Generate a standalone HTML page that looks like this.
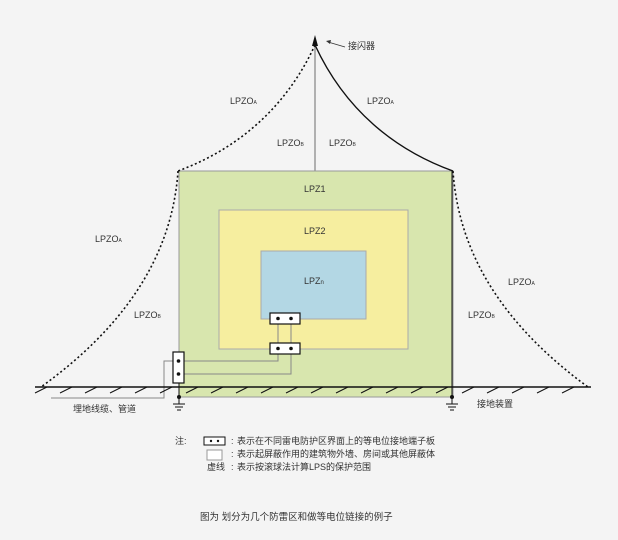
<!DOCTYPE html>
<html><head><meta charset="utf-8"><style>
html,body{margin:0;padding:0;background:#f4f4f4;}
svg{display:block;}
text{font-family:"Liberation Sans","Noto Sans CJK SC",sans-serif;fill:#333;}
</style></head><body>
<svg width="618" height="540" viewBox="0 0 618 540" xmlns="http://www.w3.org/2000/svg">
<rect x="0" y="0" width="618" height="540" fill="#f4f4f4"/>
<rect x="179" y="171" width="274" height="226" fill="#d8e6ae" stroke="#999" stroke-width="1"/>
<rect x="219" y="210" width="189" height="139" fill="#f6ee9f" stroke="#aaa" stroke-width="1"/>
<rect x="261" y="251" width="105" height="68" fill="#b3d7e4" stroke="#aaa" stroke-width="1"/>
<!-- mast -->
<line x1="315" y1="45" x2="315" y2="171" stroke="#999" stroke-width="1.5"/>
<polygon points="315,35 312,46 318,46" fill="#111"/>
<line x1="328" y1="42" x2="345" y2="47" stroke="#333" stroke-width="0.8"/>
<polygon points="326,41 331,40 330,44" fill="#333"/>
<!-- curves -->
<path d="M315,45 C285,110 235,150 178,171" fill="none" stroke="#111" stroke-width="1.6" stroke-dasharray="2,2.5"/>
<path d="M315,45 C345,110 395,150 453,171" fill="none" stroke="#111" stroke-width="1.4"/>
<path d="M178,171 C172,260 120,330 41,387" fill="none" stroke="#111" stroke-width="1.6" stroke-dasharray="2,2.5"/>
<path d="M453,171 C459,260 510,330 588,387" fill="none" stroke="#111" stroke-width="1.6" stroke-dasharray="2,2.5"/>
<!-- wires -->
<g fill="none" stroke="#888" stroke-width="1">
<line x1="278" y1="318" x2="278" y2="348"/><line x1="291" y1="318" x2="291" y2="348"/>
<polyline points="278,348 278,361 176,361"/>
<polyline points="291,348 291,374 176,374"/>
<polyline points="176,361 164,361 164,398 51,398"/>
</g>
<!-- terminal boxes -->
<g stroke="#111" stroke-width="1.2" fill="#fff">
<rect x="270" y="313" width="30" height="11"/>
<rect x="270" y="343" width="30" height="11"/>
<rect x="173" y="352" width="11" height="31"/>
</g>
<g fill="#111">
<circle cx="278" cy="318.5" r="1.8"/><circle cx="291" cy="318.5" r="1.8"/>
<circle cx="278" cy="348.5" r="1.8"/><circle cx="291" cy="348.5" r="1.8"/>
<circle cx="178.5" cy="361" r="1.8"/><circle cx="178.5" cy="374" r="1.8"/>
</g>
<!-- ground -->
<line x1="35" y1="387" x2="591" y2="387" stroke="#111" stroke-width="1.6"/>
<g stroke="#111" stroke-width="1">
<line x1="35" y1="393" x2="47" y2="387"/><line x1="60" y1="393" x2="72" y2="387"/><line x1="85" y1="393" x2="97" y2="387"/><line x1="110" y1="393" x2="122" y2="387"/><line x1="135" y1="393" x2="147" y2="387"/><line x1="160" y1="393" x2="172" y2="387"/><line x1="186" y1="393" x2="198" y2="387"/><line x1="211" y1="393" x2="223" y2="387"/><line x1="236" y1="393" x2="248" y2="387"/><line x1="261" y1="393" x2="273" y2="387"/><line x1="286" y1="393" x2="298" y2="387"/><line x1="311" y1="393" x2="323" y2="387"/><line x1="336" y1="393" x2="348" y2="387"/><line x1="361" y1="393" x2="373" y2="387"/><line x1="386" y1="393" x2="398" y2="387"/><line x1="411" y1="393" x2="423" y2="387"/><line x1="436" y1="393" x2="448" y2="387"/><line x1="462" y1="393" x2="474" y2="387"/><line x1="487" y1="393" x2="499" y2="387"/><line x1="512" y1="393" x2="524" y2="387"/><line x1="537" y1="393" x2="549" y2="387"/><line x1="562" y1="393" x2="574" y2="387"/>
<line x1="179" y1="383" x2="179" y2="404"/>
<line x1="173" y1="404" x2="185" y2="404"/><line x1="175" y1="407" x2="183" y2="407"/><line x1="177" y1="410" x2="181" y2="410"/>
<line x1="452" y1="171" x2="452" y2="404"/>
<line x1="446" y1="404" x2="458" y2="404"/><line x1="448" y1="407" x2="456" y2="407"/><line x1="450" y1="410" x2="454" y2="410"/>
</g>
<circle cx="179" cy="397" r="2" fill="#111"/><circle cx="452" cy="397" r="2" fill="#111"/>
<!-- labels -->
<g font-size="9">
<text x="348" y="49">接闪器</text>
<text x="230" y="104">LPZO<tspan font-size="5">A</tspan></text>
<text x="367" y="104">LPZO<tspan font-size="5">A</tspan></text>
<text x="277" y="146">LPZO<tspan font-size="5">B</tspan></text>
<text x="329" y="146">LPZO<tspan font-size="5">B</tspan></text>
<text x="95" y="242">LPZO<tspan font-size="5">A</tspan></text>
<text x="134" y="318">LPZO<tspan font-size="5">B</tspan></text>
<text x="508" y="285">LPZO<tspan font-size="5">A</tspan></text>
<text x="468" y="318">LPZO<tspan font-size="5">B</tspan></text>
<text x="304" y="192">LPZ1</text>
<text x="304" y="234">LPZ2</text>
<text x="304" y="284">LPZ<tspan font-size="6">n</tspan></text>
<text x="73" y="412">埋地线缆、管道</text>
<text x="477" y="407">接地装置</text>
<text x="175" y="444">注:</text>
<text x="237" y="444">表示在不同雷电防护区界面上的等电位接地端子板</text>
<text x="237" y="457">表示起屏蔽作用的建筑物外墙、房间或其他屏蔽体</text>
<text x="207" y="470">虚线</text>
<text x="237" y="470">表示按滚球法计算LPS的保护范围</text>
<text x="231" y="444">:</text><text x="231" y="457">:</text><text x="231" y="470">:</text>
<text x="200" y="520" font-size="9.5">图为 划分为几个防雷区和做等电位链接的例子</text>
</g>
<rect x="204" y="437" width="21" height="8" fill="#fff" stroke="#111" stroke-width="1"/>
<circle cx="211" cy="441" r="1.2" fill="#111"/><circle cx="218" cy="441" r="1.2" fill="#111"/>
<rect x="207" y="450" width="15" height="10" fill="#fff" stroke="#999" stroke-width="1"/>
</svg>
</body></html>
